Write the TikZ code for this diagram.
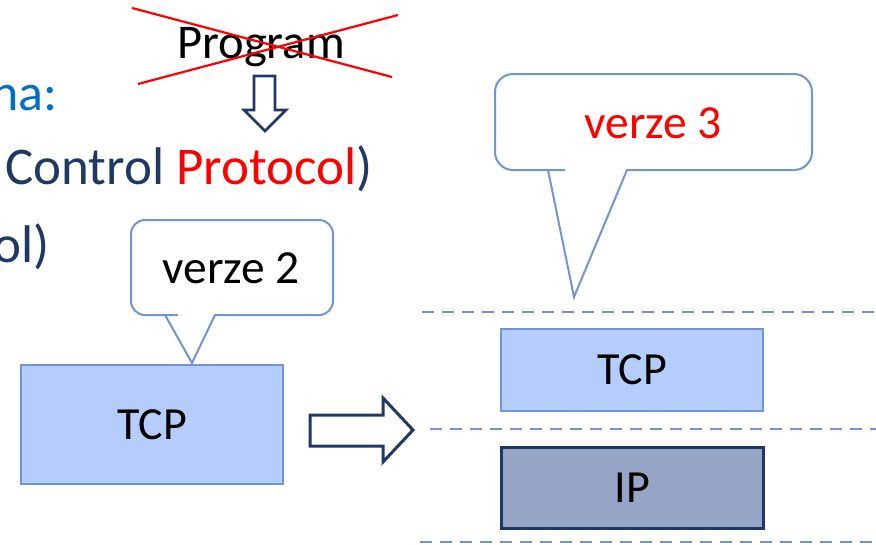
\documentclass[tikz,border=0pt]{standalone}
\usepackage{fontspec}
\setmainfont{Carlito}
\definecolor{lightbox}{RGB}{180,205,252}
\definecolor{boxborder}{RGB}{114,148,212}
\definecolor{ipfill}{RGB}{150,165,198}
\definecolor{navy}{RGB}{31,56,100}
\definecolor{officeblue}{RGB}{0,112,192}
\definecolor{pure red}{RGB}{255,0,0}
\tikzset{
  txt/.style={inner sep=0pt, font=\fontsize{#1}{#1}\selectfont},
  callout/.style={draw=boxborder, line width=2pt, fill=white, line join=miter},
  hollowarrow/.style={draw=navy, line width=3pt, fill=white, line join=miter},
  layerline/.style={draw=boxborder, line width=2.6pt, dash pattern=on 12pt off 8pt},
  tcpbox/.style={draw=boxborder, fill=lightbox, line width=2pt, minimum width=#1},
}
\begin{document}
\begin{tikzpicture}[x=1pt,y=-1pt]
\useasboundingbox (0,0) rectangle (876,544);
% left text lines
\node[txt=52, anchor=base east, text=officeblue] (na) at (58,110) {na:};
\node[txt=53, anchor=base west, text=navy] (ctrl) at (5,184) {Control \textcolor{pure red}{Protocol})};
\node[txt=53, anchor=base east, text=navy] (ol) at (50,262) {ol)};
% crossed Program
\node[txt=48.5, anchor=base] (prog) at (261,58) {Program};
\draw[pure red, line width=2.2pt] (132,8) -- (392,77);
\draw[pure red, line width=2.2pt] (138,84) -- (398,15);
% down arrow
\draw[hollowarrow, line width=2.6pt] (254,76) -- (275,76) -- (275,110) -- (286,110) -- (265,131) -- (244,110) -- (254,110) -- cycle;
% verze 2 callout
\draw[callout] (165,315) -- (192,363) -- (215,315) -- (216,315) [rounded corners=14pt] -- (333,315) -- (333,220) -- (131,220) -- (131,315) -- (164,315) [sharp corners] -- cycle;
\node[txt=47.5, anchor=base] (v2) at (231,283) {verze 2};
% left TCP box
\node[tcpbox=262pt, minimum height=119pt, anchor=north west, txt=46] (tcpL) at (20,364) {TCP};
% right arrow
\draw[hollowarrow] (310,415) -- (383,415) -- (383,398) -- (413,430) -- (383,462) -- (383,446) -- (310,446) -- cycle;
% dashed layer lines
\draw[layerline] (422,312) -- (876,312);
\draw[layerline] (430,429) -- (876,429);
\draw[layerline] (420,542) -- (876,542);
% verze 3 callout
\draw[callout] (548,170) -- (574,297) -- (627,170) -- (628,170) [rounded corners=18pt] -- (812,170) -- (812,74) -- (495,74) -- (495,170) -- (547,170) [sharp corners] -- cycle;
\node[txt=47.5, anchor=base, text=pure red] (v3) at (653,138) {verze 3};
% right stack
\node[tcpbox=262pt, minimum height=82pt, anchor=north west, txt=46] (tcpR) at (500,328) {TCP};
\node[draw=navy, fill=ipfill, line width=2.6pt, minimum width=262pt, minimum height=81pt, anchor=north west, txt=46] (ip) at (500,446) {IP};
\end{tikzpicture}
\end{document}
